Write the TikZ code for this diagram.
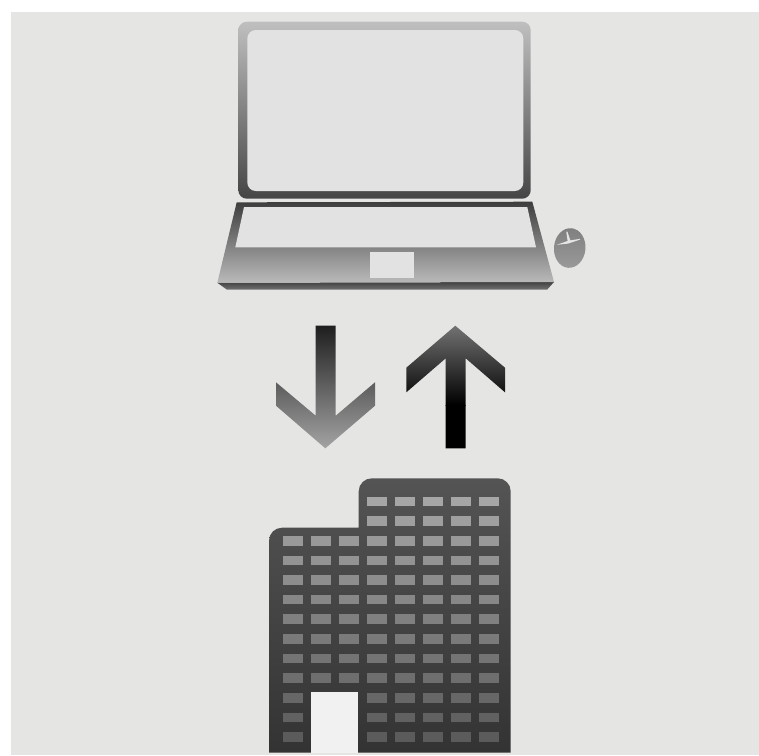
\documentclass[tikz,border=0pt]{standalone}
\definecolor{bgc}{HTML}{E5E6E4}
\definecolor{panel}{HTML}{E2E2E2}
\definecolor{doorc}{HTML}{F0F1F0}
\begin{document}
\begin{tikzpicture}[x=0.02cm,y=-0.02cm]
\useasboundingbox (0,0) rectangle (759,755);
\fill[white] (0,0) rectangle (759,755);
\fill[bgc] (11,12) rectangle (759,755);
% laptop lid
\shade[top color=black!25,bottom color=black!73,rounded corners=0.17cm]
  (238.3,21.7) rectangle (530.7,198.7);
\fill[panel,rounded corners=0.17cm] (247.3,30) rectangle (523.3,191);
% laptop base
\shade[top color=black!74,bottom color=black!56]
  (217.3,282.7) -- (554,282) -- (547.3,289.5) -- (226.7,289.5) -- cycle;
\shade[top color=black!76,middle color=black!45,bottom color=black!27]
  (236.7,202.3) -- (532.3,201.7) -- (554,282) -- (217.3,282.7) -- cycle;
\fill[panel] (244,207) -- (527.3,207) -- (536,247.3) -- (235.3,247.3) -- cycle;
\fill[panel] (370,252.3) rectangle (413.7,277.7);
% mouse
\shade[top color=black!50,bottom color=black!40,rotate around={-5:(569.7,248)}]
  (569.7,248) ellipse [x radius=0.315cm,y radius=0.397cm];
\fill[bgc] (556.7,244.8) -- (567.6,241) -- (566.3,231.7) -- (567.4,231.7) -- (570.3,240.4) -- (580.2,238.8) -- (580,239.6) -- (568,243.6) -- cycle;
% down arrow
\shade[top color=black!88,middle color=black!60,bottom color=black!36]
  (315.7,325.7) -- (335.7,325.7) -- (335.7,415.7) -- (375,382.3) -- (375,405.7)
  -- (325.3,448.3) -- (276,405.7) -- (276,382.3) -- (315.7,415.7) -- cycle;
% up arrow
\begin{scope}
\clip (455.3,325.7) -- (505,367.7) -- (505,392.3) -- (465.7,358.3) -- (465.7,448.3)
  -- (445.7,448.3) -- (445.7,358.3) -- (406.3,392.3) -- (406.3,367.7) -- cycle;
\shade[top color=black!55,bottom color=black] (400,325) rectangle (510,405);
\fill[black] (400,404.5) rectangle (510,450);
\end{scope}
% building
\shade[top color=black!67,bottom color=black!80]
  (269,752.7) -- (269,540.7) arc[start angle=180,end angle=90,radius=0.26cm]
  -- (358.7,527.7) -- (358.7,491.3) arc[start angle=180,end angle=90,radius=0.26cm]
  -- (497.7,478.3) arc[start angle=90,end angle=0,radius=0.26cm]
  -- (510.7,752.7) -- cycle;
% windows
\foreach \c in {0,...,7}{
  \foreach \r in {0,...,12}{
    \pgfmathtruncatemacro{\show}{(\c>2 || (\c==0 && \r>1) || (\r>1 && \r<10)) ? 1 : 0}
    \ifnum\show=1
      \pgfmathsetmacro{\shadeval}{35+\r*2.45}
      \pgfmathsetmacro{\wx}{282.7+\c*28}
      \pgfmathsetmacro{\wy}{496.7+\r*19.62}
      \fill[black!\shadeval] (\wx,\wy) rectangle ++(20,9.6);
    \fi
  }
}
% door
\fill[doorc] (310.7,692) rectangle (358.3,752.7);
\end{tikzpicture}
\end{document}
